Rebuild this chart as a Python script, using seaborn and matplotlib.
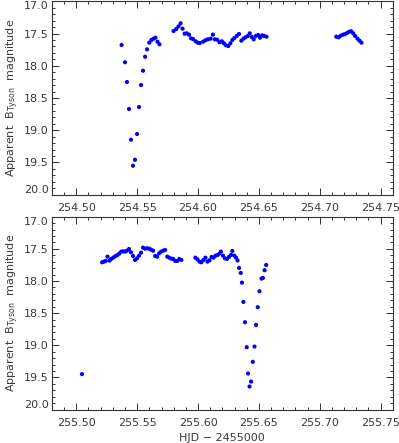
import numpy as np
import pandas as pd
import matplotlib
matplotlib.use("Agg")
import matplotlib.pyplot as plt
import seaborn as sns

# night 1 (HJD - 2455000)
top_hjd = [
    254.5372, 254.5400, 254.5416, 254.5433, 254.5449, 254.5466, 254.5482,
    254.5499, 254.5515, 254.5532, 254.5548, 254.5565, 254.5581, 254.5600,
    254.5617, 254.5634, 254.5650, 254.5667, 254.5683,
    254.5799, 254.5821, 254.5840, 254.5857, 254.5873, 254.5890, 254.5907,
    254.5926, 254.5943, 254.5959, 254.5981, 254.5998, 254.6014, 254.6042,
    254.6061, 254.6080, 254.6103, 254.6122, 254.6138, 254.6158, 254.6177,
    254.6196, 254.6213, 254.6229, 254.6249, 254.6266, 254.6282, 254.6299,
    254.6318, 254.6337, 254.6356, 254.6373, 254.6390, 254.6409, 254.6425,
    254.6442, 254.6458, 254.6475, 254.6494, 254.6510, 254.6527, 254.6543,
    254.6563,
    254.7136, 254.7156, 254.7172, 254.7192, 254.7208, 254.7225, 254.7242,
    254.7258, 254.7275, 254.7291, 254.7310, 254.7327, 254.7343,
]
top_mag = [
    17.678, 17.946, 18.252, 18.671, 19.147, 19.551, 19.458,
    19.059, 18.640, 18.299, 18.077, 17.860, 17.745, 17.642,
    17.600, 17.580, 17.565, 17.627, 17.667,
    17.461, 17.430, 17.388, 17.341, 17.425, 17.503, 17.497,
    17.518, 17.574, 17.585, 17.621, 17.642, 17.647, 17.627,
    17.605, 17.590, 17.580, 17.518, 17.590, 17.596, 17.636,
    17.621, 17.652, 17.683, 17.694, 17.652, 17.600, 17.569,
    17.538, 17.507, 17.611, 17.580, 17.559, 17.538, 17.497,
    17.554, 17.590, 17.538, 17.523, 17.565, 17.528, 17.538,
    17.549,
    17.549, 17.559, 17.534, 17.518, 17.507, 17.492, 17.472,
    17.465, 17.497, 17.538, 17.580, 17.611, 17.642,
]

# night 2
bot_hjd = [
    255.5046,
    255.5212, 255.5228, 255.5242, 255.5256, 255.5273, 255.5286, 255.5303,
    255.5319, 255.5336, 255.5352, 255.5369, 255.5385, 255.5402, 255.5416,
    255.5433, 255.5449, 255.5466, 255.5482, 255.5499, 255.5515, 255.5532,
    255.5548, 255.5565, 255.5581, 255.5598, 255.5614, 255.5631, 255.5648,
    255.5664, 255.5681, 255.5697, 255.5714, 255.5730, 255.5747, 255.5763,
    255.5780, 255.5796, 255.5813, 255.5830, 255.5846, 255.5863,
    255.5978, 255.5995, 255.6012, 255.6028, 255.6045, 255.6061, 255.6078,
    255.6094, 255.6111, 255.6127, 255.6144, 255.6161, 255.6177, 255.6188,
    255.6205, 255.6221, 255.6238, 255.6254, 255.6271, 255.6282, 255.6298,
    255.6312, 255.6325,
    255.6337, 255.6351, 255.6361, 255.6373, 255.6386, 255.6400, 255.6411,
    255.6423, 255.6436, 255.6450, 255.6464, 255.6477, 255.6491, 255.6505,
    255.6522, 255.6533, 255.6547, 255.6560,
]
bot_mag = [
    19.449,
    17.708, 17.698, 17.687, 17.620, 17.682, 17.656, 17.636,
    17.615, 17.599, 17.574, 17.542, 17.537, 17.542, 17.527,
    17.501, 17.553, 17.610, 17.672, 17.646, 17.605, 17.558,
    17.480, 17.496, 17.490, 17.496, 17.511, 17.527, 17.610,
    17.620, 17.568, 17.542, 17.527, 17.516, 17.620, 17.636,
    17.651, 17.656, 17.687, 17.687, 17.656, 17.672,
    17.636, 17.661, 17.698, 17.708, 17.672, 17.636, 17.698,
    17.677, 17.625, 17.636, 17.605, 17.594, 17.574, 17.542,
    17.605, 17.646, 17.656, 17.625, 17.594, 17.532, 17.605,
    17.636, 17.680,
    17.796, 17.874, 18.025, 18.325, 18.641, 19.030, 19.440,
    19.642, 19.565, 19.258, 19.020, 18.683, 18.408, 18.159,
    17.962, 17.952, 17.832, 17.750,
]

top_ticks = [254.50, 254.55, 254.60, 254.65, 254.70, 254.75]
bot_ticks = [255.50, 255.55, 255.60, 255.65, 255.70, 255.75]
mag_ticks = [17.0, 17.5, 18.0, 18.5, 19.0, 19.5, 20.0]

sns.set_style("ticks")
plt.rcParams['font.family'] = ['DejaVu Sans']
text_col = '#3a3a3a'

fig = plt.figure(figsize=(3.99, 4.43), dpi=100)
ax1 = fig.add_axes([0.1303, 0.5605, 0.8540, 0.4366])
ax2 = fig.add_axes([0.1303, 0.0756, 0.8540, 0.4350])

panels = [
    (ax1, top_hjd, top_mag, top_ticks),
    (ax2, bot_hjd, bot_mag, bot_ticks),
]
for ax, hjd, mag, ticks in panels:
    df = pd.DataFrame({'hjd': hjd, 'mag': mag})
    sns.scatterplot(data=df, x='hjd', y='mag', ax=ax, color='#0000ff',
                    s=9, linewidth=0, edgecolor='none')
    ax.set_xlim(ticks[0] - 0.02, ticks[-1] + 0.01)
    ax.set_ylim(20.0, 17.0)
    ax.set_xticks(ticks)
    ax.set_xticklabels([f"{t:.2f}" for t in ticks])
    ax.set_xticks(np.arange(ticks[0] - 0.02, ticks[-1] + 0.011, 0.01), minor=True)
    ax.set_yticks(mag_ticks)
    # the end labels are drawn by hand below, shifted inside the frame
    ax.set_yticklabels([""] + [f"{t:.1f}" for t in mag_ticks[1:-1]] + [""])
    ax.set_yticks(np.arange(17.0, 20.01, 0.1), minor=True)
    ax.tick_params(which='both', direction='in', top=True, right=True,
                   color='#333333', width=0.7, labelsize=8, labelcolor=text_col)
    ax.tick_params(which='major', length=5)
    ax.tick_params(which='minor', length=2.5)
    ax.tick_params(axis='x', pad=6)
    ax.tick_params(axis='y', pad=2.5)
    for sp in ax.spines.values():
        sp.set_color('#333333')
        sp.set_linewidth(0.8)
    ax.set_ylabel(r"Apparent  B$_{\mathregular{Tyson}}$  magnitude",
                  fontsize=8, color=text_col, labelpad=2)
    ax.set_xlabel("")
    for val, va in [(mag_ticks[0], 'top'), (mag_ticks[-1], 'bottom')]:
        ax.annotate(f"{val:.1f}", xy=(0, val), xycoords=ax.get_yaxis_transform(),
                    xytext=(-2.5, 0), textcoords='offset points',
                    ha='right', va=va, fontsize=8, color=text_col)

ax2.set_xlabel("HJD \u2212 2455000", fontsize=8, color=text_col, labelpad=4)

fig.savefig("out.png", dpi=100)
